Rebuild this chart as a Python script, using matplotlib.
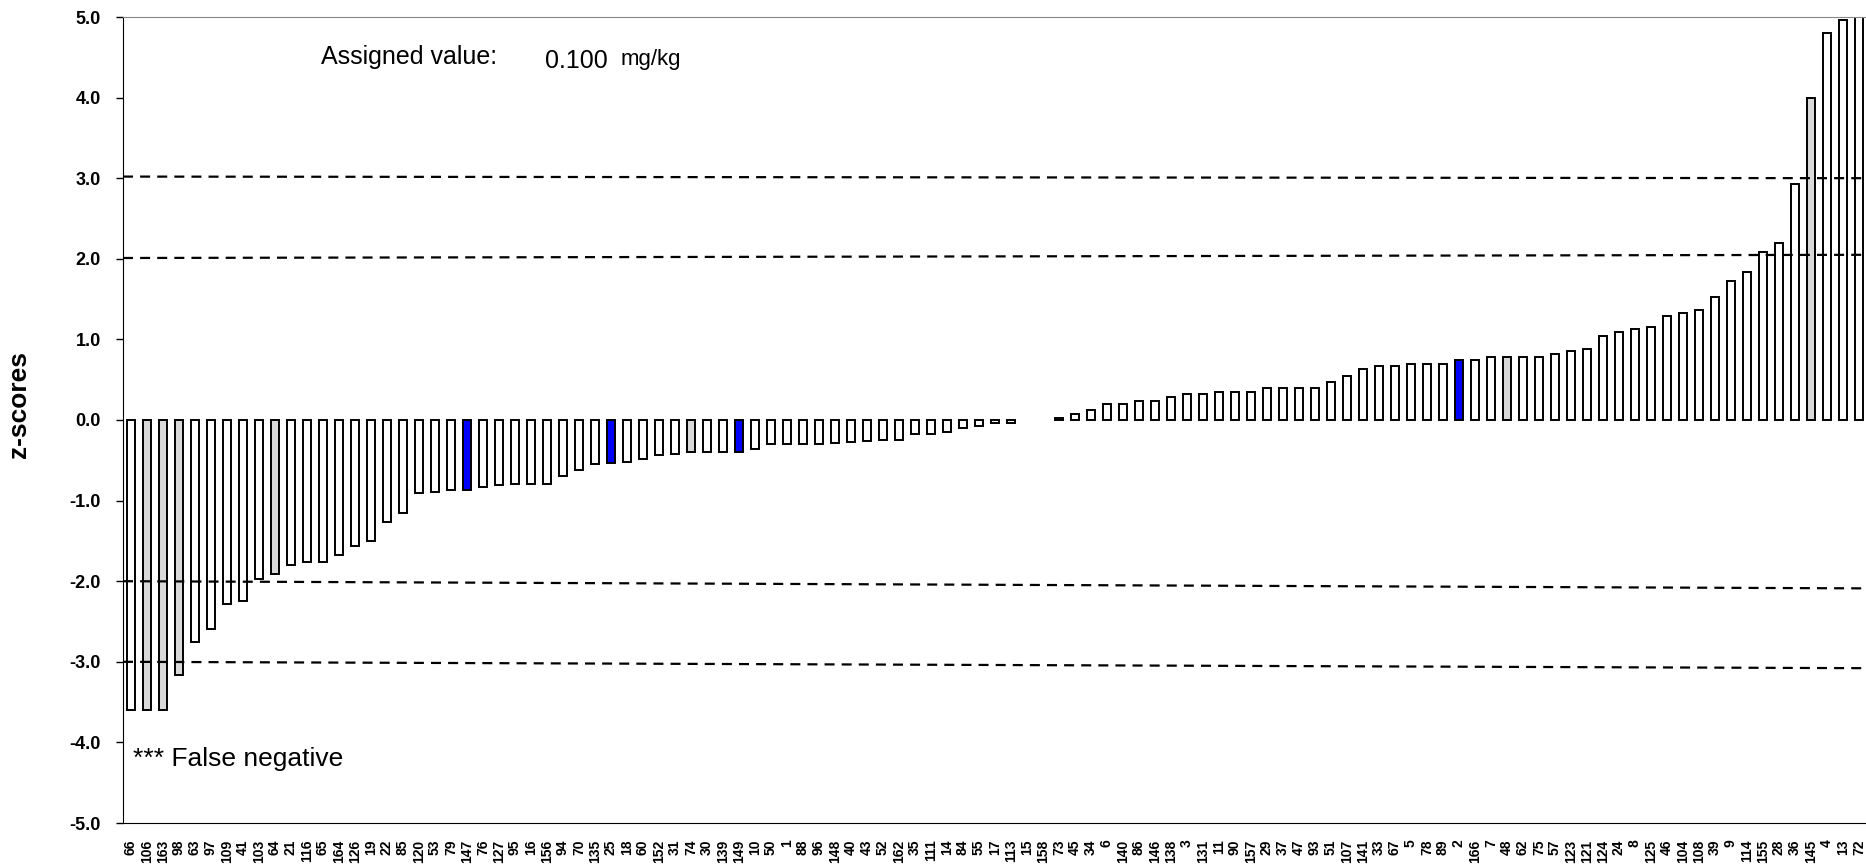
import numpy as np
import matplotlib.pyplot as plt

plt.rcParams['font.family'] = ['Liberation Sans', 'DejaVu Sans']

# lab codes in plotting order
labs = ['66', '106', '163', '98', '63', '97', '109', '41', '103', '64', '21', '116', '65', '164',
        '126', '19', '22', '85', '120', '53', '79', '147', '76', '127', '95', '16', '156', '94',
        '70', '135', '25', '18', '60', '152', '31', '74', '30', '139', '149', '10', '50', '1',
        '88', '96', '148', '40', '43', '52', '162', '35', '111', '14', '84', '55', '17', '113',
        '15', '158', '73', '45', '34', '6', '140', '86', '146', '138', '3', '131', '11', '90',
        '157', '29', '37', '47', '93', '51', '107', '141', '33', '67', '5', '78', '89', '2',
        '166', '7', '48', '62', '75', '57', '123', '121', '124', '24', '8', '125', '46', '104',
        '108', '39', '9', '114', '155', '28', '36', '145', '4', '13', '72']

z = [-3.60, -3.60, -3.60, -3.16, -2.76, -2.59, -2.28, -2.24, -1.97, -1.91, -1.80, -1.76, -1.76,
     -1.68, -1.56, -1.50, -1.26, -1.16, -0.90, -0.89, -0.87, -0.87, -0.83, -0.81, -0.80, -0.80,
     -0.79, -0.69, -0.62, -0.55, -0.53, -0.52, -0.49, -0.44, -0.42, -0.40, -0.40, -0.40, -0.40,
     -0.36, -0.30, -0.30, -0.30, -0.30, -0.28, -0.27, -0.26, -0.25, -0.25, -0.17, -0.17, -0.15,
     -0.10, -0.07, -0.04, -0.04, np.nan, np.nan, 0.03, 0.07, 0.12, 0.20, 0.20, 0.23, 0.23, 0.28,
     0.32, 0.32, 0.35, 0.35, 0.35, 0.40, 0.40, 0.40, 0.40, 0.47, 0.55, 0.63, 0.67, 0.67, 0.70,
     0.70, 0.70, 0.75, 0.75, 0.78, 0.78, 0.78, 0.78, 0.82, 0.85, 0.88, 1.04, 1.09, 1.13, 1.16,
     1.29, 1.33, 1.36, 1.52, 1.72, 1.84, 2.09, 2.20, 2.93, 4.00, 4.80, 4.96, 5.60]

grey_labs = ['106', '163', '98', '64', '74', '48', '145']
blue_labs = ['147', '25', '149', '2']

# limit lines (value at left end, value at right end)
limits = [(3.02, 3.00), (2.01, 2.05), (-2.00, -2.09), (-3.00, -3.08)]

colors = []
for l in labs:
    if l in blue_labs:
        colors.append('#0000ff')
    elif l in grey_labs:
        colors.append('#d9d9d9')
    else:
        colors.append('white')

fig = plt.figure(figsize=(18.66, 8.67), dpi=100)
x0, x1 = -0.5, 109.5
ax = fig.add_axes([123 / 1866, 44 / 867, (x1 - x0) * 16 / 1866, 806 / 867])

x = np.arange(len(labs))
ax.bar(x, z, width=0.52, color=colors, edgecolor='black', linewidth=1.4, zorder=2)

for a, b in limits:
    ax.plot([x0, x1], [a, b], color='black', linestyle=(0, (4.5, 3.2)), linewidth=1.6, zorder=3)

ax.set_xlim(x0, x1)
ax.set_ylim(-5, 5)
ax.set_yticks(np.arange(-5, 5.1, 1))
ax.set_yticklabels(['%.1f' % v for v in np.arange(-5, 5.1, 1)], fontsize=13, fontweight='bold')
ax.tick_params(axis='y', direction='out', length=5, width=1, pad=11)
ax.set_xticks(x)
ax.set_xticklabels(labs, rotation=90, fontsize=10, fontweight='bold')
ax.tick_params(axis='x', length=0, pad=12)
ax.set_ylabel('z-scores', fontsize=19, fontweight='bold')
ax.yaxis.set_label_coords(-0.052, 0.519)

ax.spines['top'].set_color('#888888')
ax.spines['right'].set_visible(False)

ax.text(11.9, 4.50, 'Assigned value:', fontsize=18, va='center')
ax.text(25.9, 4.45, '0.100', fontsize=18, va='center')
ax.text(30.6, 4.47, 'mg/kg', fontsize=16, va='center')
ax.text(0.1, -4.2, '*** False negative', fontsize=19, va='center')

fig.savefig('out.png', dpi=100)
